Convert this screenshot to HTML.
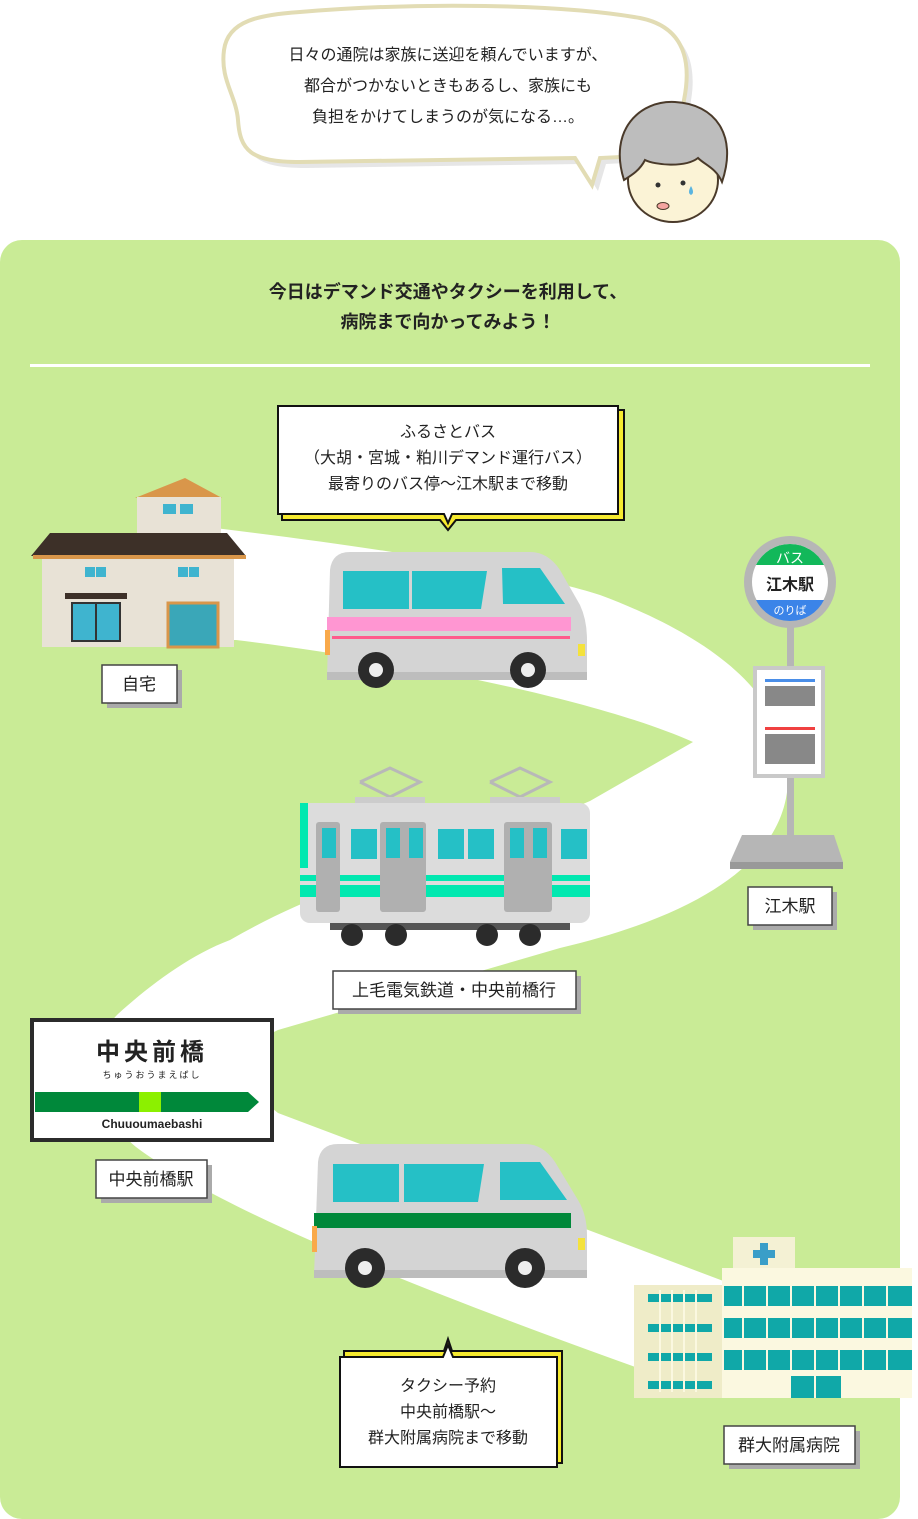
<!DOCTYPE html>
<html><head><meta charset="utf-8"><style>
html,body{margin:0;padding:0;background:#fff;}
svg{display:block;}
text{font-family:"Liberation Sans","Noto Sans CJK JP",sans-serif;fill:#222;}
</style></head><body>
<svg width="918" height="1519" viewBox="0 0 918 1519" xmlns="http://www.w3.org/2000/svg">
<!-- top speech bubble -->
<g transform="translate(6,6)"><path d="M300,12 C420,2 560,4 640,18 C690,28 690,70 684,100 C680,130 690,150 640,156 L600,158 L592,185 L575,158 L300,162 C250,162 240,150 238,120 C236,95 220,80 224,50 C228,20 260,15 300,12 Z" fill="#e6e6e6"/></g>
<path d="M300,12 C420,2 560,4 640,18 C690,28 690,70 684,100 C680,130 690,150 640,156 L600,158 L592,185 L575,158 L300,162 C250,162 240,150 238,120 C236,95 220,80 224,50 C228,20 260,15 300,12 Z" fill="#fff" stroke="#e2dcb4" stroke-width="4"/>
<text x="448" y="60" font-size="16" text-anchor="middle">日々の通院は家族に送迎を頼んでいますが、</text>
<text x="448" y="91" font-size="16" text-anchor="middle">都合がつかないときもあるし、家族にも</text>
<text x="448" y="122" font-size="16" text-anchor="middle">負担をかけてしまうのが気になる…。</text>
<!-- face -->
<ellipse cx="673" cy="180" rx="45" ry="42" fill="#fbf3d6" stroke="#4a3a2a" stroke-width="2"/>
<path d="M624,180 C608,130 640,100 675,102 C715,104 738,135 722,182 C716,168 705,165 698,158 C685,168 655,165 645,160 C640,170 632,175 624,180 Z" fill="#bdbdbd" stroke="#4a3a2a" stroke-width="2"/>
<circle cx="658" cy="185" r="2.5" fill="#333"/><circle cx="683" cy="183" r="2.5" fill="#333"/>
<ellipse cx="663" cy="206" rx="6" ry="3.5" fill="#f4a5a0" stroke="#4a3a2a" stroke-width="1"/>
<path d="M691,186 q-4,7 0,9 q4,-2 0,-9z" fill="#5ab4e0"/>
<!-- green panel -->
<rect x="0" y="240" width="900" height="1279" rx="22" fill="#c9eb96"/>
<text x="448" y="298" font-size="18" font-weight="bold" text-anchor="middle">今日はデマンド交通やタクシーを利用して、</text>
<text x="448" y="328" font-size="18" font-weight="bold" text-anchor="middle">病院まで向かってみよう！</text>
<rect x="30" y="364" width="840" height="3" fill="#fff"/>
<!-- road -->
<path d="M215,528 C380,548 520,570 600,595 C720,640 790,700 788,780 C786,860 700,915 560,948 L278,1030 C245,1045 240,1070 262,1100 L278,1113 L726,1282 L726,1380 L638,1368 C420,1290 220,1210 136,1147 C90,1110 90,1040 118,1014 C150,985 190,955 230,940 C350,870 500,840 590,801 L693,742 C600,700 400,660 236,640 L215,640 Z" fill="#fff"/>
<!-- house -->
<polygon points="135,498 185,478 222,498" fill="#d9964a"/>
<rect x="137" y="497" width="84" height="38" fill="#e8e2d6"/>
<rect x="163" y="504" width="13" height="10" fill="#3fb4cf"/><rect x="180" y="504" width="13" height="10" fill="#3fb4cf"/>
<polygon points="31,556 50,533 227,533 246,556" fill="#3d3028"/>
<rect x="33" y="555" width="213" height="4" fill="#d9964a"/>
<rect x="42" y="559" width="192" height="88" fill="#e8e2d6"/>
<rect x="85" y="567" width="10" height="10" fill="#3fb4cf"/><rect x="96" y="567" width="10" height="10" fill="#3fb4cf"/>
<rect x="178" y="567" width="10" height="10" fill="#3fb4cf"/><rect x="189" y="567" width="10" height="10" fill="#3fb4cf"/>
<rect x="65" y="593" width="62" height="6" fill="#3d3028"/>
<rect x="72" y="603" width="48" height="38" fill="#3fb4cf" stroke="#333" stroke-width="2"/>
<line x1="96" y1="603" x2="96" y2="641" stroke="#333" stroke-width="2"/>
<rect x="168" y="603" width="50" height="44" fill="#3aa7b8" stroke="#d9964a" stroke-width="3"/>
<!-- label boxes -->
<g font-size="17">
<rect x="107" y="670" width="75" height="38" fill="#aaa"/><rect x="102" y="665" width="75" height="38" fill="#fff" stroke="#444" stroke-width="1.5"/>
<text x="139" y="690" text-anchor="middle">自宅</text>
<rect x="753" y="892" width="84" height="38" fill="#aaa"/><rect x="748" y="887" width="84" height="38" fill="#fff" stroke="#444" stroke-width="1.5"/>
<text x="790" y="912" text-anchor="middle">江木駅</text>
<rect x="338" y="976" width="243" height="38" fill="#aaa"/><rect x="333" y="971" width="243" height="38" fill="#fff" stroke="#444" stroke-width="1.5"/>
<text x="454" y="996" text-anchor="middle">上毛電気鉄道・中央前橋行</text>
<rect x="101" y="1165" width="111" height="38" fill="#aaa"/><rect x="96" y="1160" width="111" height="38" fill="#fff" stroke="#444" stroke-width="1.5"/>
<text x="151" y="1185" text-anchor="middle">中央前橋駅</text>
<rect x="729" y="1431" width="131" height="38" fill="#aaa"/><rect x="724" y="1426" width="131" height="38" fill="#fff" stroke="#444" stroke-width="1.5"/>
<text x="789" y="1451" text-anchor="middle">群大附属病院</text>
</g>
<!-- callout 1 -->
<polygon points="282,410 624,410 624,520 456,520 448,530 440,520 282,520" fill="#f6ea2f" stroke="#111" stroke-width="2"/>
<polygon points="278,406 618,406 618,514 452,514 448,523 444,514 278,514" fill="#fff" stroke="#111" stroke-width="2"/>
<text x="448" y="437" font-size="16" text-anchor="middle">ふるさとバス</text>
<text x="448" y="463" font-size="16" text-anchor="middle">（大胡・宮城・粕川デマンド運行バス）</text>
<text x="448" y="489" font-size="16" text-anchor="middle">最寄りのバス停〜江木駅まで移動</text>
<!-- callout 2 -->
<polygon points="344,1351 444,1351 448,1339 452,1351 562,1351 562,1463 344,1463" fill="#f6ea2f" stroke="#111" stroke-width="2"/>
<polygon points="340,1357 443,1357 448,1345 453,1357 557,1357 557,1467 340,1467" fill="#fff" stroke="#111" stroke-width="2"/>
<text x="448" y="1391" font-size="16" text-anchor="middle">タクシー予約</text>
<text x="448" y="1417" font-size="16" text-anchor="middle">中央前橋駅〜</text>
<text x="448" y="1443" font-size="16" text-anchor="middle">群大附属病院まで移動</text>
<!-- bus 1 (pink) -->
<path d="M330,570 Q332,552 350,552 L530,552 Q548,552 560,570 L580,605 Q587,620 587,640 L587,678 L327,678 Z" fill="#d4d4d4"/>
<rect x="327" y="672" width="260" height="8" fill="#bdbdbd"/>
<rect x="343" y="571" width="66" height="38" fill="#25c0c6"/>
<polygon points="412,571 487,571 481,609 412,609" fill="#25c0c6"/>
<polygon points="502,568 540,568 565,604 503,604" fill="#25c0c6"/>
<rect x="327" y="617" width="244" height="14" fill="#ff96d2"/>
<rect x="332" y="636" width="238" height="3" fill="#ff5a8c"/>
<rect x="325" y="630" width="5" height="25" fill="#f9a94a"/>
<rect x="578" y="644" width="7" height="12" fill="#f4e23c"/>
<circle cx="376" cy="670" r="18" fill="#2b2b2b"/><circle cx="376" cy="670" r="7" fill="#eee"/>
<circle cx="528" cy="670" r="18" fill="#2b2b2b"/><circle cx="528" cy="670" r="7" fill="#eee"/>
<!-- bus stop -->
<rect x="787" y="622" width="7" height="215" fill="#b6b6b6"/>
<circle cx="790" cy="582" r="46" fill="#b6b6b6"/>
<circle cx="790" cy="582" r="38" fill="#fff"/>
<path d="M756,565 A38,38 0 0 1 824,565 Z" fill="#12b85a"/>
<path d="M756,600 A38,38 0 0 0 824,600 Z" fill="#3b84e8"/>
<text x="790" y="563" font-size="14" text-anchor="middle" style="fill:#fff">バス</text>
<text x="790" y="590" font-size="16" font-weight="bold" text-anchor="middle">江木駅</text>
<text x="790" y="614" font-size="11" text-anchor="middle" style="fill:#fff">のりば</text>
<rect x="753" y="666" width="72" height="112" fill="#c9c9c9"/>
<rect x="757" y="670" width="64" height="104" fill="#fff"/>
<rect x="765" y="679" width="50" height="3" fill="#4a8ee8"/>
<g fill="#888"><rect x="765" y="686" width="50" height="20"/><rect x="765" y="734" width="50" height="30"/></g>
<rect x="765" y="727" width="50" height="3" fill="#f04040"/>
<polygon points="742,835 834,835 843,862 730,862" fill="#b6b6b6"/>
<rect x="730" y="862" width="113" height="7" fill="#999"/>
<!-- train -->
<polyline points="360,782 390,768 420,782 390,797 360,782" fill="none" stroke="#b8b8b8" stroke-width="3"/>
<polyline points="490,782 520,768 550,782 520,797 490,782" fill="none" stroke="#b8b8b8" stroke-width="3"/>
<rect x="355" y="797" width="70" height="8" fill="#ccc"/><rect x="490" y="797" width="70" height="8" fill="#ccc"/>
<rect x="330" y="915" width="240" height="15" fill="#555"/>
<circle cx="352" cy="935" r="11" fill="#2b2b2b"/><circle cx="396" cy="935" r="11" fill="#2b2b2b"/>
<circle cx="487" cy="935" r="11" fill="#2b2b2b"/><circle cx="530" cy="935" r="11" fill="#2b2b2b"/>
<rect x="300" y="803" width="290" height="120" rx="10" fill="#dcdcdc"/>
<rect x="300" y="803" width="8" height="65" fill="#00e8b0"/>
<rect x="300" y="875" width="290" height="6" fill="#00e8b0"/>
<rect x="300" y="885" width="290" height="12" fill="#00e8b0"/>
<g fill="#b0b0b0"><rect x="316" y="822" width="24" height="90" rx="3"/><rect x="380" y="822" width="46" height="90" rx="3"/><rect x="504" y="822" width="48" height="90" rx="3"/></g>
<g fill="#25c0c6"><rect x="322" y="828" width="14" height="30"/><rect x="351" y="829" width="26" height="30"/><rect x="386" y="828" width="14" height="30"/><rect x="409" y="828" width="14" height="30"/><rect x="438" y="829" width="26" height="30"/><rect x="468" y="829" width="26" height="30"/><rect x="510" y="828" width="14" height="30"/><rect x="533" y="828" width="14" height="30"/><rect x="561" y="829" width="26" height="30"/></g>
<!-- station sign -->
<rect x="32" y="1020" width="240" height="120" fill="#fff" stroke="#2b2b2b" stroke-width="4"/>
<text x="152" y="1060" font-size="24" font-weight="bold" text-anchor="middle" letter-spacing="4">中央前橋</text>
<text x="152" y="1078" font-size="9" text-anchor="middle" letter-spacing="2">ちゅうおうまえばし</text>
<polygon points="35,1092 248,1092 259,1102 248,1112 35,1112" fill="#00883a"/>
<rect x="139" y="1092" width="22" height="20" fill="#8cf000"/>
<text x="152" y="1128" font-size="12" font-weight="bold" text-anchor="middle">Chuuoumaebashi</text>
<!-- taxi -->
<path d="M318,1162 Q320,1144 338,1144 L525,1144 Q543,1144 555,1162 L578,1200 Q587,1215 587,1235 L587,1276 L314,1276 Z" fill="#d4d4d4"/>
<rect x="314" y="1270" width="273" height="8" fill="#bdbdbd"/>
<rect x="333" y="1164" width="66" height="38" fill="#25c0c6"/>
<polygon points="404,1164 484,1164 478,1202 404,1202" fill="#25c0c6"/>
<polygon points="500,1162 540,1162 567,1200 500,1200" fill="#25c0c6"/>
<rect x="314" y="1213" width="257" height="15" fill="#00883a"/>
<rect x="312" y="1226" width="5" height="26" fill="#f9a94a"/>
<rect x="578" y="1238" width="7" height="12" fill="#f4e23c"/>
<circle cx="365" cy="1268" r="20" fill="#2b2b2b"/><circle cx="365" cy="1268" r="7" fill="#eee"/>
<circle cx="525" cy="1268" r="20" fill="#2b2b2b"/><circle cx="525" cy="1268" r="7" fill="#eee"/>
<!-- hospital -->
<rect x="733" y="1237" width="62" height="32" fill="#f4f1d4"/>
<rect x="760" y="1243" width="8" height="22" fill="#3a9ec8"/><rect x="753" y="1250" width="22" height="8" fill="#3a9ec8"/>
<rect x="634" y="1285" width="90" height="113" fill="#efecc8"/>
<rect x="722" y="1268" width="190" height="130" fill="#fbf8e0"/>
<g fill="#10a8a8">
<rect x="648" y="1294" width="64" height="8"/><rect x="648" y="1324" width="64" height="8"/><rect x="648" y="1353" width="64" height="8"/><rect x="648" y="1381" width="64" height="8"/>
<rect x="724" y="1286" width="188" height="20"/><rect x="724" y="1318" width="188" height="20"/><rect x="724" y="1350" width="188" height="20"/>
<rect x="791" y="1376" width="50" height="22"/>
</g>
<g stroke="#fbf8e0" stroke-width="2">
<line x1="743" y1="1284" x2="743" y2="1372"/><line x1="767" y1="1284" x2="767" y2="1372"/><line x1="791" y1="1284" x2="791" y2="1372"/><line x1="815" y1="1284" x2="815" y2="1398"/><line x1="839" y1="1284" x2="839" y2="1372"/><line x1="863" y1="1284" x2="863" y2="1372"/><line x1="887" y1="1284" x2="887" y2="1372"/>
<line x1="660" y1="1290" x2="660" y2="1392"/><line x1="672" y1="1290" x2="672" y2="1392"/><line x1="684" y1="1290" x2="684" y2="1392"/><line x1="696" y1="1290" x2="696" y2="1392"/>
</g>
</svg>
</body></html>
